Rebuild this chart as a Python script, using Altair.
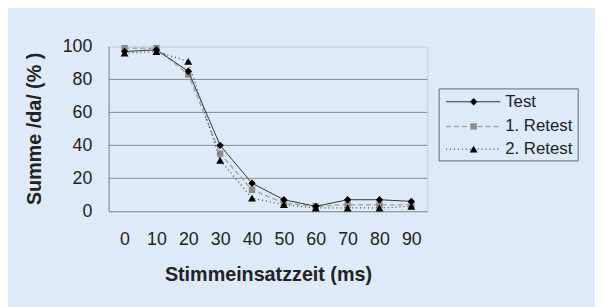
import altair as alt
import pandas as pd

times = [0, 10, 20, 30, 40, 50, 60, 70, 80, 90]
test = [97, 98, 85, 40, 17, 7, 3, 7, 7, 6]
retest1 = [99, 99, 83, 35, 13, 5, 3, 4, 4, 4]
retest2 = [96, 97, 91, 31, 8, 4, 2, 2, 2, 3]
series = ["Test", "1. Retest", "2. Retest"]
grid_values = [20, 40, 60, 80]
y_ticks = [0, 20, 40, 60, 80, 100]

rows = []
for s, vals in zip(series, [test, retest1, retest2]):
    for t, v in zip(times, vals):
        rows.append({"Zeit": str(t), "Serie": s, "Wert": v})
df = pd.DataFrame(rows)

FONT = "Liberation Sans"
TXT = "#222222"

x_axis = alt.Axis(
    title="Stimmeinsatzzeit (ms)", labelAngle=0, ticks=False, domain=True,
    domainColor="#888888", labelFontSize=18, labelPadding=20, labelColor=TXT,
    labelOverlap=False,
    titleFontSize=20, titleFontWeight="bold", titleColor=TXT,
    titleBaseline="middle", titleY=64,
    labelFont=FONT, titleFont=FONT,
)
y_axis = alt.Axis(
    title="Summe /da/ (% )", values=y_ticks, grid=False, ticks=False,
    domainColor="#888888", labelFontSize=18, labelPadding=17, labelColor=TXT,
    labelOverlap=False, labelBound=False,
    titleFontSize=20, titleFontWeight="bold", titleColor=TXT,
    titleAngle=-90, titleAlign="center", titleBaseline="middle",
    titleX=-75, titleY=83,
    labelFont=FONT, titleFont=FONT,
)
y_scale = alt.Scale(domain=[0, 100])

x_enc = alt.X("Zeit:O", sort=[str(t) for t in times], axis=x_axis)
y_enc = alt.Y("Wert:Q", scale=y_scale, axis=y_axis)

base = alt.Chart(df)

grid = alt.Chart(pd.DataFrame({"g": grid_values})).mark_rule(
    color="#8a8a8a", strokeWidth=1
).encode(y=alt.Y("g:Q", scale=y_scale, axis=y_axis))

styles = {
    "Test": dict(line=dict(color="#333333", strokeWidth=1),
                 pt=dict(shape="diamond", size=55, color="#000000")),
    "1. Retest": dict(line=dict(color="#a8a8a8", strokeWidth=1.5, strokeDash=[5, 3]),
                      pt=dict(shape="square", size=42, color="#8c8c8c")),
    "2. Retest": dict(line=dict(color="#444444", strokeWidth=1.3, strokeDash=[1, 3]),
                      pt=dict(shape="triangle-up", size=65, color="#000000")),
}

layers = [grid]
for s in ["1. Retest", "Test", "2. Retest"]:
    st = styles[s]
    sub = base.transform_filter(alt.datum.Serie == s)
    layers.append(sub.mark_line(**st["line"]).encode(x=x_enc, y=y_enc))
    layers.append(sub.mark_point(filled=True, opacity=1, **st["pt"]).encode(x=x_enc, y=y_enc))

# legend (drawn manually)
one = pd.DataFrame({"a": [0]})
legend_box = alt.Chart(one).mark_rect(fill=None, stroke="#666666", strokeWidth=1).encode(
    x=alt.value(335), x2=alt.value(476), y=alt.value(43), y2=alt.value(116)
)
layers.append(legend_box)
leg_y = [56, 81, 104]
for s, yy in zip(series, leg_y):
    st = styles[s]
    layers.append(alt.Chart(one).mark_rule(**st["line"]).encode(
        x=alt.value(342), x2=alt.value(397), y=alt.value(yy)))
    layers.append(alt.Chart(one).mark_point(filled=True, opacity=1, **st["pt"]).encode(
        x=alt.value(370), y=alt.value(yy)))
    layers.append(alt.Chart(one).mark_text(
        align="left", baseline="middle", fontSize=17, font=FONT, color=TXT).encode(
        x=alt.value(402), y=alt.value(yy), text=alt.value(s)))

chart = alt.layer(*layers).properties(
    width=323, height=167,
    autosize=alt.AutoSizeParams(type="none"),
    padding={"left": 102, "top": 37, "right": 170, "bottom": 95},
    background="#DEEAF7",
).configure_view(stroke="#c5ccd4", strokeWidth=1).configure_axis(labelOverlap=False)

chart.save("out.html", embed_options={"renderer": "svg", "actions": False})
